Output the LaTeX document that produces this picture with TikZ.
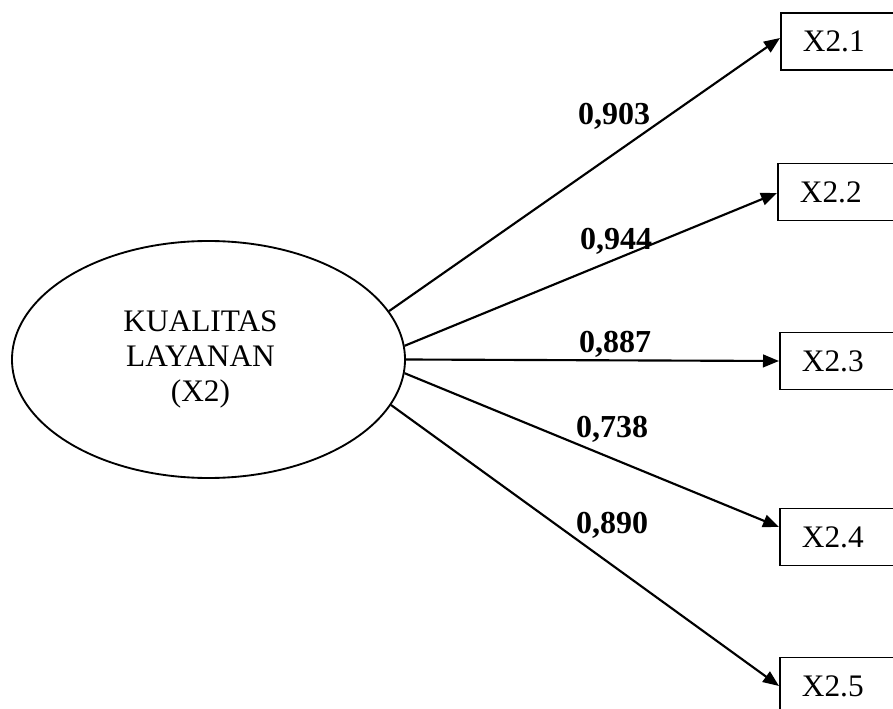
\documentclass[tikz,border=0pt]{standalone}
\usepackage{fontspec}
\setmainfont{Liberation Serif}
\usetikzlibrary{arrows.meta,shapes.geometric,calc}
\begin{document}
\begin{tikzpicture}[x=0.75pt,y=-0.75pt,
  every node/.style={font=\fontsize{23.5}{26.5}\selectfont},
  lat/.style={ellipse, draw, line width=1.4pt, minimum width=294.75pt, minimum height=177.75pt, inner sep=0pt},
  ind/.style={draw, line width=1.4pt, anchor=west, minimum height=42.75pt, text width=70pt, inner xsep=16.5pt, inner ysep=0pt, align=left},
  conn/.style={line width=1.6pt, -{Triangle[length=12pt,width=9.5pt]}},
  lbl/.style={font=\fontsize{24}{26.5}\selectfont\bfseries, anchor=base, inner sep=0pt}]
\useasboundingbox (0,0) rectangle (893,709);
\clip (0,0) rectangle (893,709);

\node[lat] (lat) at (208.5,359.5)
  {\begin{tabular}{@{}c@{}}KUALITAS\\LAYANAN\\(X2)\end{tabular}\hspace*{12pt}};

\node[ind] (b1) at (780,41.5) {X2.1};
\node[ind] (b2) at (777,192) {X2.2};
\node[ind] (b3) at (779,361) {X2.3};
\node[ind] (b4) at (779,537) {X2.4};
\node[ind] (b5) at (779,686) {X2.5};

\draw[conn] (lat.15) -- ($(b1.west)+(0,-3.5)$);
\draw[conn] (lat.4) -- ($(b2.west)+(0,1)$);
\draw[conn] (lat.0) -- (b3.west);
\draw[conn] (lat.-4) -- ($(b4.west)+(0,-10)$);
\draw[conn] (lat.-14) -- (b5.west);

\node[lbl] (l1) at (614,125) {0,903};
\node[lbl] (l2) at (616,250) {0,944};
\node[lbl] (l3) at (615,353) {0,887};
\node[lbl] (l4) at (612,437) {0,738};
\node[lbl] (l5) at (612,533) {0,890};
\end{tikzpicture}
\end{document}
